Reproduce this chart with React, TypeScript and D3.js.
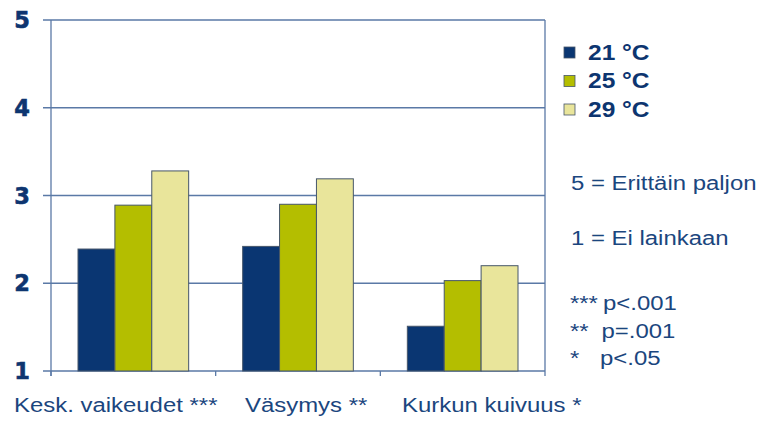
import React from "react";
import * as d3 from "d3";

const categories = ["Kesk. vaikeudet ***", "Väsymys **", "Kurkun kuivuus *"];
const seriesNames = ["21 °C", "25 °C", "29 °C"];
const s21 = [2.39, 2.42, 1.51];
const s25 = [2.89, 2.9, 2.03];
const s29 = [3.28, 3.19, 2.2];
const yTicks = [1, 2, 3, 4, 5];
const scaleNotes = ["5 = Erittäin paljon", "1 = Ei lainkaan"];
const sigStars = ["***", "**", "*"];
const sigText = ["p<.001", "p=.001", "p<.05"];

const colors = ["#0a3672", "#b4be00", "#e9e59b"];
const W = 762, H = 421;
const left = 51, right = 545, top = 20, bottom = 371;
const gridColor = "#5a79a6";
const labelColor = "#1b467e";
const tickColor = "#0d3570";
const labelStarts = [14, 245, 402];
const SX = 1.14;

function SText({ x, y, size, bold, children }: { x: number; y: number; size: number; bold?: boolean; children: React.ReactNode }) {
  return (
    <g transform={`translate(${x},${y}) scale(${SX},1)`}>
      <text x={0} y={0} fontFamily="Liberation Sans, Arial, sans-serif" fontWeight={bold ? "bold" : "normal"} fontSize={size} fill={bold ? tickColor : labelColor}>{children}</text>
    </g>
  );
}

export default function App() {
  const x = d3.scaleBand<string>().domain(categories).range([left, right]).paddingInner(0).paddingOuter(0);
  const inner = d3.scaleBand<string>().domain(seriesNames).range([27, x.bandwidth() - 27]).padding(0);
  const y = d3.scaleLinear().domain([1, 5]).range([bottom, top]);
  const series = [s21, s25, s29];

  return (
    <svg width={W} height={H} style={{ position: "absolute", left: 0, top: 0, background: "#fff" }}>
      {yTicks.map((t) => (
        <g key={t}>
          <line x1={left - 8} x2={right} y1={y(t)} y2={y(t)} stroke={gridColor} strokeWidth={1.3} />
          <text x={22} y={y(t)} dy="0.36em" textAnchor="middle" fontFamily="DejaVu Sans" fontWeight="bold" fontSize={22.5} fill={tickColor} stroke={tickColor} strokeWidth={0.6}>{t}</text>
        </g>
      ))}
      <line x1={left} x2={left} y1={top} y2={bottom + 5} stroke={gridColor} strokeWidth={1.3} />
      <line x1={right} x2={right} y1={top} y2={bottom + 5} stroke={gridColor} strokeWidth={1.3} />
      {categories.map((c) => (
        <line key={c} x1={x(c)!} x2={x(c)!} y1={bottom} y2={bottom + 5} stroke={gridColor} strokeWidth={1.3} />
      ))}
      {categories.map((c, i) => (
        <g key={c}>
          {series.map((s, j) => (
            <rect key={j} x={x(c)! + inner(seriesNames[j])!} y={y(s[i])} width={inner.bandwidth()} height={y(1) - y(s[i])} fill={colors[j]} stroke="#46566a" strokeWidth={1} />
          ))}
        </g>
      ))}
      {categories.map((c, i) => (
        <SText key={c} x={labelStarts[i]} y={412} size={21}>{c}</SText>
      ))}
      {seriesNames.map((n, j) => (
        <g key={n}>
          <rect x={564} y={47 + j * 28.5} width={11} height={11} fill={colors[j]} stroke="#46566a" strokeWidth={0.8} />
          <SText x={588} y={59.5 + j * 28.5} size={21.5} bold>{n}</SText>
        </g>
      ))}
      {scaleNotes.map((n, i) => (
        <SText key={n} x={571} y={190 + i * 55} size={21}>{n}</SText>
      ))}
      {sigText.map((p, i) => (
        <g key={p}>
          <SText x={570} y={310 + i * 27.5} size={21}>{sigStars[i]}</SText>
          <SText x={603 - i * 1.5} y={310 + i * 27.5} size={21}>{p}</SText>
        </g>
      ))}
    </svg>
  );
}
